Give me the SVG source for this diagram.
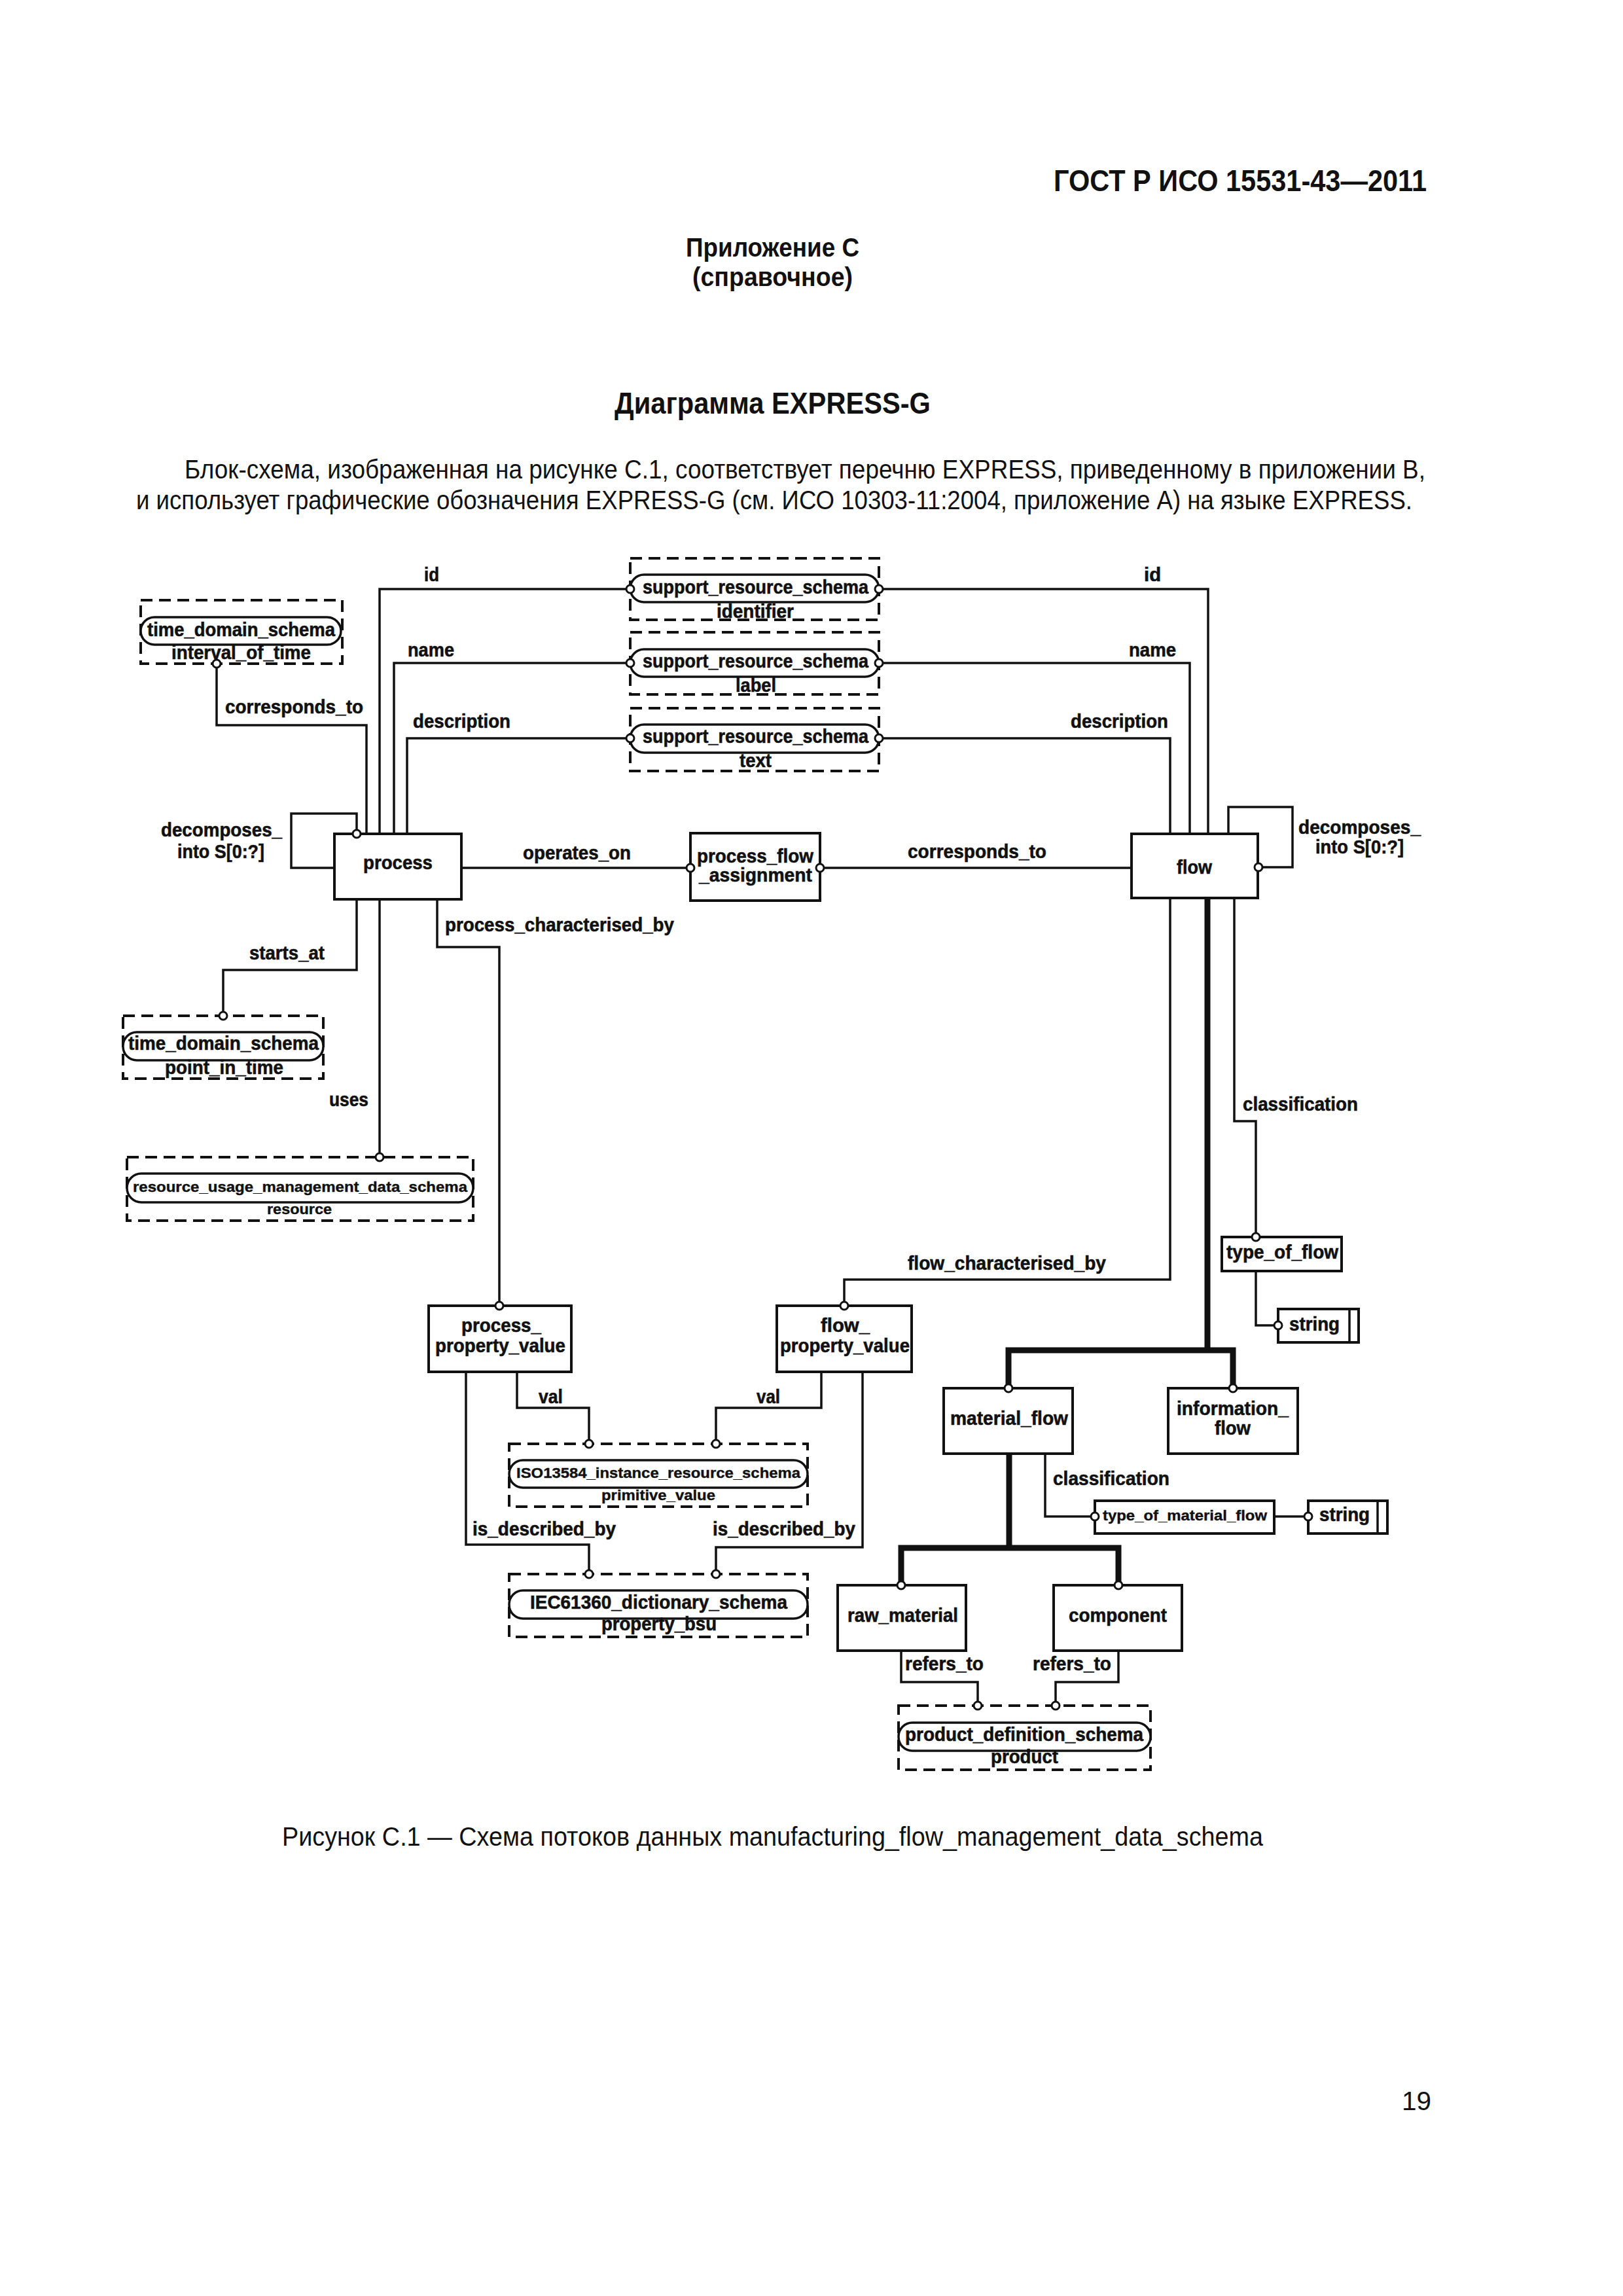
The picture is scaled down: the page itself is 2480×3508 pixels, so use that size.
<svg xmlns="http://www.w3.org/2000/svg" width="2480" height="3508" viewBox="0 0 2480 3508">
<style>
.pg{font-family:"Liberation Sans",Arial,sans-serif;fill:#111}
.b{font-weight:bold}
.t{font-family:"Liberation Sans",Arial,sans-serif;font-weight:bold;font-size:29px;fill:#111;stroke:#111;stroke-width:0.6}
.s{font-size:22px;stroke-width:0.4}
.ent{fill:#fff;stroke:#111;stroke-width:4}
.dash{fill:none;stroke:#111;stroke-width:4;stroke-dasharray:18 10}
.pill{fill:#fff;stroke:#111;stroke-width:3.5}
.ln{fill:none;stroke:#111;stroke-width:3.5}
.thick{fill:none;stroke:#111;stroke-width:9}
.c{fill:#fff;stroke:#111;stroke-width:3}
</style>
<rect width="2480" height="3508" fill="#fff"/>

<g id="page-text">
<text class="pg b" x="1610" y="292" font-size="46" textLength="570" lengthAdjust="spacingAndGlyphs">ГОСТ Р ИСО 15531-43—2011</text>
<text class="pg b" x="1048" y="392" font-size="40" textLength="265" lengthAdjust="spacingAndGlyphs">Приложение С</text>
<text class="pg b" x="1058" y="437" font-size="40" textLength="245" lengthAdjust="spacingAndGlyphs">(справочное)</text>
<text class="pg b" x="939" y="632" font-size="46" textLength="483" lengthAdjust="spacingAndGlyphs">Диаграмма EXPRESS-G</text>
<text class="pg" x="282" y="731" font-size="40" textLength="1896" lengthAdjust="spacingAndGlyphs">Блок-схема, изображенная на рисунке С.1, соответствует перечню EXPRESS, приведенному в приложении В,</text>
<text class="pg" x="208" y="778" font-size="40" textLength="1950" lengthAdjust="spacingAndGlyphs">и использует графические обозначения EXPRESS-G (см. ИСО 10303-11:2004, приложение А) на языке EXPRESS.</text>
<text class="pg" x="431" y="2820" font-size="40" textLength="1499" lengthAdjust="spacingAndGlyphs">Рисунок С.1 — Схема потоков данных manufacturing_flow_management_data_schema</text>
<text class="pg" x="2142" y="3224" font-size="40" textLength="45" lengthAdjust="spacingAndGlyphs">19</text>
</g>

<g id="nodes">
<g id="sr_identifier">
<rect class="dash" x="963" y="853" width="380" height="94"/>
<rect class="pill" x="963" y="878" width="380" height="42" rx="21"/>
<text class="t" x="982" y="907" textLength="345" lengthAdjust="spacingAndGlyphs">support_resource_schema</text>
<text class="t" x="1095" y="944" textLength="118" lengthAdjust="spacingAndGlyphs">identifier</text>
</g>
<g id="sr_label">
<rect class="dash" x="963" y="966" width="380" height="95"/>
<rect class="pill" x="963" y="992" width="380" height="42" rx="21"/>
<text class="t" x="982" y="1020" textLength="345" lengthAdjust="spacingAndGlyphs">support_resource_schema</text>
<text class="t" x="1124" y="1057" textLength="62" lengthAdjust="spacingAndGlyphs">label</text>
</g>
<g id="sr_text">
<rect class="dash" x="963" y="1082" width="380" height="96"/>
<rect class="pill" x="963" y="1107" width="380" height="43" rx="21"/>
<text class="t" x="982" y="1135" textLength="345" lengthAdjust="spacingAndGlyphs">support_resource_schema</text>
<text class="t" x="1130" y="1172" textLength="49" lengthAdjust="spacingAndGlyphs">text</text>
</g>
<g id="tds_interval_of_time">
<rect class="dash" x="215" y="917" width="308" height="97"/>
<rect class="pill" x="215" y="943" width="306" height="42" rx="21"/>
<text class="t" x="225" y="972" textLength="287" lengthAdjust="spacingAndGlyphs">time_domain_schema</text>
<text class="t" x="262" y="1007" textLength="213" lengthAdjust="spacingAndGlyphs">interval_of_time</text>
</g>
<g id="tds_point_in_time">
<rect class="dash" x="188" y="1552" width="306" height="96"/>
<rect class="pill" x="188" y="1577" width="306" height="43" rx="21"/>
<text class="t" x="196" y="1604" textLength="291" lengthAdjust="spacingAndGlyphs">time_domain_schema</text>
<text class="t" x="252" y="1641" textLength="181" lengthAdjust="spacingAndGlyphs">point_in_time</text>
</g>
<g id="rumds_resource">
<rect class="dash" x="194" y="1768" width="529" height="97"/>
<rect class="pill" x="194" y="1793" width="529" height="44" rx="22"/>
<text class="t s" x="203" y="1821" textLength="511" lengthAdjust="spacingAndGlyphs">resource_usage_management_data_schema</text>
<text class="t s" x="408" y="1855" textLength="99" lengthAdjust="spacingAndGlyphs">resource</text>
</g>
<g id="process">
<rect class="ent" x="511" y="1274" width="194" height="100"/>
<text class="t" x="555" y="1328" textLength="106" lengthAdjust="spacingAndGlyphs">process</text>
</g>
<g id="process_flow_assignment">
<rect class="ent" x="1055" y="1273" width="198" height="103"/>
<text class="t" x="1065" y="1318" textLength="178" lengthAdjust="spacingAndGlyphs">process_flow</text>
<text class="t" x="1068" y="1347" textLength="173" lengthAdjust="spacingAndGlyphs">_assignment</text>
</g>
<g id="flow">
<rect class="ent" x="1729" y="1274" width="193" height="98"/>
<text class="t" x="1798" y="1335" textLength="54" lengthAdjust="spacingAndGlyphs">flow</text>
</g>
<g id="process_property_value">
<rect class="ent" x="655" y="1995" width="218" height="101"/>
<text class="t" x="705" y="2035" textLength="122" lengthAdjust="spacingAndGlyphs">process_</text>
<text class="t" x="665" y="2066" textLength="199" lengthAdjust="spacingAndGlyphs">property_value</text>
</g>
<g id="flow_property_value">
<rect class="ent" x="1187" y="1995" width="206" height="101"/>
<text class="t" x="1254" y="2035" textLength="75" lengthAdjust="spacingAndGlyphs">flow_</text>
<text class="t" x="1192" y="2066" textLength="198" lengthAdjust="spacingAndGlyphs">property_value</text>
</g>
<g id="iso13584_primitive_value">
<rect class="dash" x="778" y="2206" width="456" height="96"/>
<rect class="pill" x="778" y="2231" width="456" height="42" rx="21"/>
<text class="t s" x="789" y="2258" textLength="434" lengthAdjust="spacingAndGlyphs">ISO13584_instance_resource_schema</text>
<text class="t s" x="919" y="2292" textLength="174" lengthAdjust="spacingAndGlyphs">primitive_value</text>
</g>
<g id="iec61360_property_bsu">
<rect class="dash" x="778" y="2405" width="456" height="96"/>
<rect class="pill" x="778" y="2430" width="456" height="43" rx="21"/>
<text class="t" x="810" y="2458" textLength="393" lengthAdjust="spacingAndGlyphs">IEC61360_dictionary_schema</text>
<text class="t" x="919" y="2491" textLength="176" lengthAdjust="spacingAndGlyphs">property_bsu</text>
</g>
<g id="type_of_flow">
<rect class="ent" x="1867" y="1890" width="183" height="52"/>
<text class="t" x="1874" y="1923" textLength="171" lengthAdjust="spacingAndGlyphs">type_of_flow</text>
</g>
<g id="string_1">
<rect class="ent" x="1953" y="2000" width="123" height="51"/>
<line class="ln" x1="2062" y1="2000" x2="2062" y2="2051"/>
<text class="t" x="1970" y="2033" textLength="77" lengthAdjust="spacingAndGlyphs">string</text>
</g>
<g id="material_flow">
<rect class="ent" x="1442" y="2121" width="197" height="100"/>
<text class="t" x="1452" y="2177" textLength="180" lengthAdjust="spacingAndGlyphs">material_flow</text>
</g>
<g id="information_flow">
<rect class="ent" x="1785" y="2121" width="198" height="100"/>
<text class="t" x="1798" y="2162" textLength="171" lengthAdjust="spacingAndGlyphs">information_</text>
<text class="t" x="1856" y="2192" textLength="55" lengthAdjust="spacingAndGlyphs">flow</text>
</g>
<g id="type_of_material_flow">
<rect class="ent" x="1673" y="2293" width="274" height="50"/>
<text class="t s" x="1685" y="2323" textLength="251" lengthAdjust="spacingAndGlyphs">type_of_material_flow</text>
</g>
<g id="string_2">
<rect class="ent" x="1999" y="2293" width="121" height="50"/>
<line class="ln" x1="2105" y1="2293" x2="2105" y2="2343"/>
<text class="t" x="2016" y="2324" textLength="77" lengthAdjust="spacingAndGlyphs">string</text>
</g>
<g id="raw_material">
<rect class="ent" x="1280" y="2422" width="196" height="100"/>
<text class="t" x="1295" y="2478" textLength="169" lengthAdjust="spacingAndGlyphs">raw_material</text>
</g>
<g id="component">
<rect class="ent" x="1610" y="2422" width="196" height="100"/>
<text class="t" x="1633" y="2478" textLength="150" lengthAdjust="spacingAndGlyphs">component</text>
</g>
<g id="pds_product">
<rect class="dash" x="1373" y="2606" width="385" height="98"/>
<rect class="pill" x="1373" y="2632" width="385" height="43" rx="21"/>
<text class="t" x="1383" y="2660" textLength="364" lengthAdjust="spacingAndGlyphs">product_definition_schema</text>
<text class="t" x="1514" y="2694" textLength="103" lengthAdjust="spacingAndGlyphs">product</text>
</g>
</g>

<g id="connectors">
<path class="ln" d="M963 900H580V1274"/>
<path class="ln" d="M963 1013H602V1274"/>
<path class="ln" d="M963 1128H622V1274"/>
<path class="ln" d="M1343 900H1846V1274"/>
<path class="ln" d="M1343 1013H1818V1274"/>
<path class="ln" d="M1343 1128H1788V1274"/>
<path class="ln" d="M560 1274V1108H331V1014"/>
<path class="ln" d="M511 1326H445V1243H545V1274"/>
<path class="ln" d="M705 1326H1055"/>
<path class="ln" d="M1253 1326H1729"/>
<path class="ln" d="M1877 1274V1233H1975V1325H1923"/>
<path class="ln" d="M545 1374V1482H341V1552"/>
<path class="ln" d="M580 1374V1768"/>
<path class="ln" d="M668 1374V1447H763V1995"/>
<path class="ln" d="M1788 1372V1955H1290V1995"/>
<path class="ln" d="M1886 1372V1713H1919V1890"/>
<path class="ln" d="M1919 1942V2025H1953"/>
<path class="thick" d="M1845 1372V2063"/>
<path class="thick" d="M1541 2121V2063H1884V2121"/>
<path class="ln" d="M790 2096V2151H900V2206"/>
<path class="ln" d="M1255 2096V2151H1094V2206"/>
<path class="ln" d="M712 2096V2360H900V2405"/>
<path class="ln" d="M1318 2096V2364H1094V2405"/>
<path class="ln" d="M1597 2221V2317H1673"/>
<path class="ln" d="M1947 2317H1999"/>
<path class="thick" d="M1542 2221V2365"/>
<path class="thick" d="M1377 2422V2365H1709V2422"/>
<path class="ln" d="M1377 2522V2570H1494V2606"/>
<path class="ln" d="M1709 2522V2570H1613V2606"/>
<g id="circles">
<circle class="c" cx="963" cy="900" r="6"/>
<circle class="c" cx="963" cy="1013" r="6"/>
<circle class="c" cx="963" cy="1128" r="6"/>
<circle class="c" cx="1343" cy="900" r="6"/>
<circle class="c" cx="1343" cy="1013" r="6"/>
<circle class="c" cx="1343" cy="1128" r="6"/>
<circle class="c" cx="331" cy="1014" r="6"/>
<circle class="c" cx="545" cy="1274" r="6"/>
<circle class="c" cx="1055" cy="1326" r="6"/>
<circle class="c" cx="1253" cy="1326" r="6"/>
<circle class="c" cx="1923" cy="1325" r="6"/>
<circle class="c" cx="341" cy="1552" r="6"/>
<circle class="c" cx="580" cy="1768" r="6"/>
<circle class="c" cx="763" cy="1995" r="6"/>
<circle class="c" cx="1290" cy="1995" r="6"/>
<circle class="c" cx="1919" cy="1890" r="6"/>
<circle class="c" cx="1953" cy="2025" r="6"/>
<circle class="c" cx="1541" cy="2121" r="6"/>
<circle class="c" cx="1884" cy="2121" r="6"/>
<circle class="c" cx="900" cy="2206" r="6"/>
<circle class="c" cx="1094" cy="2206" r="6"/>
<circle class="c" cx="900" cy="2405" r="6"/>
<circle class="c" cx="1094" cy="2405" r="6"/>
<circle class="c" cx="1673" cy="2317" r="6"/>
<circle class="c" cx="1999" cy="2317" r="6"/>
<circle class="c" cx="1377" cy="2422" r="6"/>
<circle class="c" cx="1709" cy="2422" r="6"/>
<circle class="c" cx="1494" cy="2606" r="6"/>
<circle class="c" cx="1613" cy="2606" r="6"/>
</g>
</g>

<g id="labels">
<text class="t" x="648" y="888" textLength="23" lengthAdjust="spacingAndGlyphs">id</text>
<text class="t" x="623" y="1003" textLength="71" lengthAdjust="spacingAndGlyphs">name</text>
<text class="t" x="631" y="1112" textLength="149" lengthAdjust="spacingAndGlyphs">description</text>
<text class="t" x="1748" y="888" textLength="26" lengthAdjust="spacingAndGlyphs">id</text>
<text class="t" x="1725" y="1003" textLength="72" lengthAdjust="spacingAndGlyphs">name</text>
<text class="t" x="1636" y="1112" textLength="149" lengthAdjust="spacingAndGlyphs">description</text>
<text class="t" x="344" y="1090" textLength="211" lengthAdjust="spacingAndGlyphs">corresponds_to</text>
<text class="t" x="246" y="1278" textLength="185" lengthAdjust="spacingAndGlyphs">decomposes_</text>
<text class="t" x="271" y="1311" textLength="133" lengthAdjust="spacingAndGlyphs">into S[0:?]</text>
<text class="t" x="799" y="1313" textLength="165" lengthAdjust="spacingAndGlyphs">operates_on</text>
<text class="t" x="1387" y="1311" textLength="212" lengthAdjust="spacingAndGlyphs">corresponds_to</text>
<text class="t" x="1984" y="1274" textLength="187" lengthAdjust="spacingAndGlyphs">decomposes_</text>
<text class="t" x="2010" y="1304" textLength="135" lengthAdjust="spacingAndGlyphs">into S[0:?]</text>
<text class="t" x="680" y="1423" textLength="350" lengthAdjust="spacingAndGlyphs">process_characterised_by</text>
<text class="t" x="381" y="1466" textLength="115" lengthAdjust="spacingAndGlyphs">starts_at</text>
<text class="t" x="503" y="1690" textLength="60" lengthAdjust="spacingAndGlyphs">uses</text>
<text class="t" x="1899" y="1697" textLength="176" lengthAdjust="spacingAndGlyphs">classification</text>
<text class="t" x="1387" y="1940" textLength="303" lengthAdjust="spacingAndGlyphs">flow_characterised_by</text>
<text class="t" x="823" y="2144" textLength="37" lengthAdjust="spacingAndGlyphs">val</text>
<text class="t" x="1156" y="2144" textLength="36" lengthAdjust="spacingAndGlyphs">val</text>
<text class="t" x="722" y="2346" textLength="219" lengthAdjust="spacingAndGlyphs">is_described_by</text>
<text class="t" x="1089" y="2346" textLength="218" lengthAdjust="spacingAndGlyphs">is_described_by</text>
<text class="t" x="1609" y="2269" textLength="178" lengthAdjust="spacingAndGlyphs">classification</text>
<text class="t" x="1383" y="2552" textLength="120" lengthAdjust="spacingAndGlyphs">refers_to</text>
<text class="t" x="1578" y="2552" textLength="120" lengthAdjust="spacingAndGlyphs">refers_to</text>
</g>
</svg>
